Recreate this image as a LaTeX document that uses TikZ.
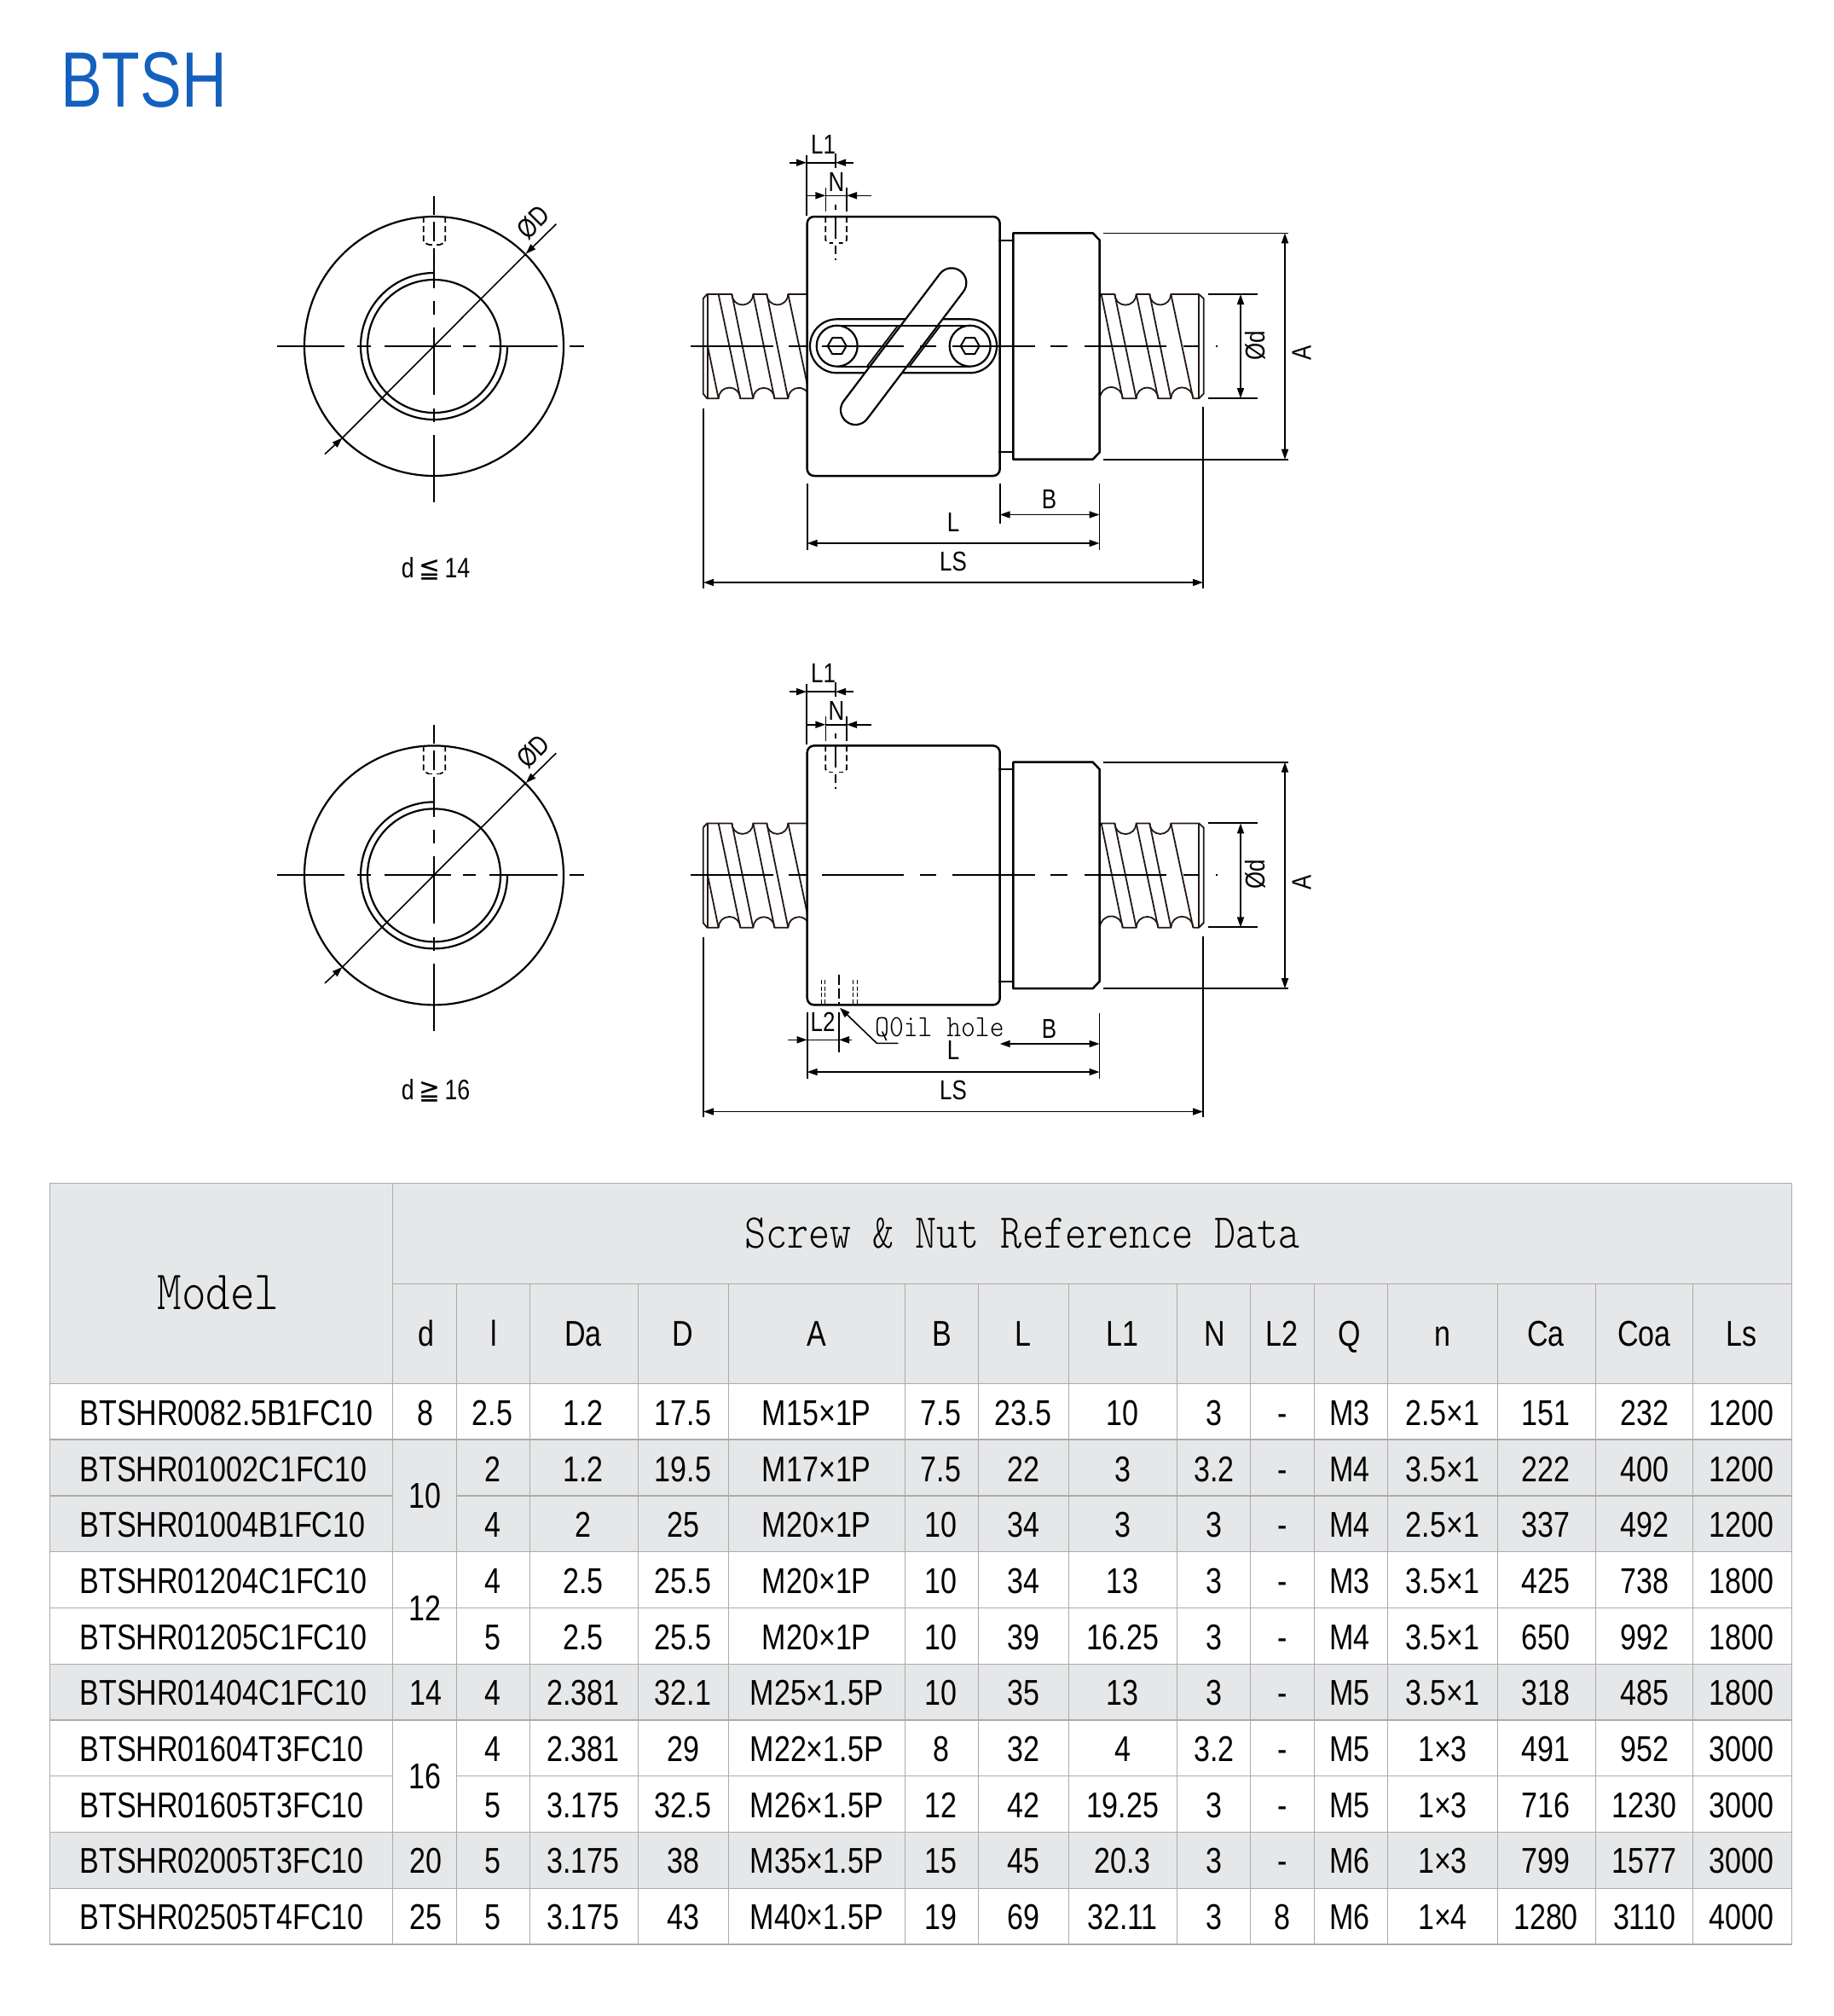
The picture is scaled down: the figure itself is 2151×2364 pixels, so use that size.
\documentclass[tikz,border=0pt]{standalone}
\usepackage{fontspec}
\usetikzlibrary{arrows.meta}
\setmainfont{Liberation Sans}
\newfontfamily\nar[FakeStretch=0.81]{Liberation Sans}
\newfontfamily\titlef[FakeStretch=0.795]{Liberation Sans}
\newfontfamily\monof[FakeStretch=0.838]{Latin Modern Mono Light}
\newfontfamily\monoq[FakeStretch=0.89]{Latin Modern Mono Light}
\newfontfamily\djv[FakeStretch=0.9]{DejaVu Sans}
\definecolor{tgray}{HTML}{E6E7E8}
\definecolor{tline}{HTML}{ABABAB}
\definecolor{titleblue}{HTML}{1460BE}
\definecolor{thr}{HTML}{231815}
\tikzset{
  body/.style={line width=2.5pt,black,line join=round},
  thread/.style={line width=1.8pt,thr,line join=round},
  thin dim/.style={line width=1.6pt,black},
  center line/.style={line width=2pt,black},
  dash hole/.style={line width=1.7pt,black,dash pattern=on 7pt off 4pt},
  both/.style={thin dim,{Triangle[length=12pt,width=8pt]}-{Triangle[length=12pt,width=8pt]}},
  oneway/.style={thin dim,-{Triangle[length=12pt,width=8pt]}},
  lab/.style={inner sep=0pt,font=\nar\fontsize{32}{32}\selectfont},
  cellt/.style={inner sep=0pt,anchor=base,font=\nar\fontsize{42}{42}\selectfont},
  hl/.style={line width=1.3pt,tline},
  vl/.style={line width=1pt,tline}
}
\newcommand\thlines{
  % left thread
  \begin{scope}[shift={(810,330)},x=0.33333pt,y=-0.33333pt]
    \draw[thread] (44,60)--(58,45)--(145,45) arc[start angle=180,end angle=360,radius=12.5pt]
      --(268,45) arc[start angle=180,end angle=360,radius=12.5pt]--(410,45);
    \draw[thread] (44,60)--(44,395)--(58,412)--(98,412) arc[start angle=180,end angle=0,radius=12.8pt]
      --(220,412) arc[start angle=180,end angle=0,radius=12.5pt]
      --(343,412) arc[start angle=180,end angle=37,radius=12.5pt];
    \draw[thread] (60,45)--(60,412);
    \draw[thread] (60,228)--(98,412);
    \draw[thread] (98,45)--(175,412);
    \draw[thread] (145,45)--(220,412);
    \draw[thread] (220,45)--(295,412);
    \draw[thread] (268,45)--(343,412);
    \draw[thread] (343,45)--(410,360);
  \end{scope}
  % right thread
  \begin{scope}[shift={(1280,330)},x=0.33333pt,y=-0.33333pt]
    \draw[thread] (30,45)--(82,45) arc[start angle=180,end angle=360,radius=12.67pt]
      --(205,45) arc[start angle=180,end angle=360,radius=12.5pt]
      --(378,45)--(395,60)--(395,395)--(378,412)--(358,412);
    \draw[thread] (30,412) arc[start angle=180,end angle=0,radius=13.33pt]
      --(158,412) arc[start angle=180,end angle=0,radius=12.83pt]
      --(280,412) arc[start angle=180,end angle=0,radius=13pt];
    \draw[thread] (378,45)--(378,412);
    \draw[thread] (35,45)--(110,412);
    \draw[thread] (82,45)--(158,412);
    \draw[thread] (158,45)--(235,412);
    \draw[thread] (205,45)--(280,412);
    \draw[thread] (280,45)--(358,412);
  \end{scope}
}
\newcommand\nutbody{
  \draw[body,rounded corners=8pt] (946.7,254) rectangle (1172.7,558);
  \draw[body] (1188.3,273.3)--(1281.7,273.3)--(1289.7,281.7)--(1289.7,530.3)--(1281.7,538.7)--(1188.3,538.7)--cycle;
  \draw[thin dim,line width=1.8pt] (1171,281.7)--(1188.3,281.7) (1171,530.3)--(1188.3,530.3);
}
\newcommand\axisline{
  \draw[center line] (810,406)--(907,406) (925,406)--(947,406) (964,406)--(1060,406) (1079,406)--(1098,406)
    (1117,406)--(1213.5,406) (1232.4,406)--(1252,406) (1272,406)--(1368,406) (1388,406)--(1407,406) (1426.3,406)--(1428,406);
}
\newcommand\commondims[1]{
  % L1
  \draw[thin dim] (946,181.7)--(946,252.7);
  \draw[thin dim] (980,180)--(980,196.7);
  \draw[thin dim] (946,190.7)--(980,190.7);
  \draw[oneway] (925.7,190.7)--(946,190.7);
  \draw[oneway] (1001,190.7)--(980,190.7);
  \node[lab] (#1L1) at (965.5,169) {L1};
  % N
  \draw[thin dim] (968.3,220)--(968.3,248.3) (993,220)--(993,248.3);
  \draw[thin dim] (968.3,229.3)--(993,229.3);
  \draw[oneway] (946,229.3)--(968.3,229.3);
  \draw[oneway] (1021.7,229.3)--(993,229.3);
  \node[lab] (#1N) at (981,213.5) {N};
  % threaded hole
  \draw[dash hole] (968.3,254)--(968.3,281.7)--(973.3,285) (993,254)--(993,281.7)--(988,285);
  \draw[line width=1.7pt] (973.3,285)--(977,285) (984,285)--(988,285);
  \draw[line width=1.7pt] (980,240)--(980,246) (980,255)--(980,280) (980,288)--(980,298) (980,303)--(980,304.5);
  % A
  \draw[thin dim] (1293.5,273.3)--(1510.7,273.3) (1293.5,538.7)--(1510.7,538.7);
  \draw[both] (1507,273.3)--(1507,538.7);
  \node[lab,rotate=90] (#1A) at (1526.5,414) {A};
  % d
  \draw[thin dim,line width=2pt] (1417,345)--(1475,345) (1417,467)--(1475,467);
  \draw[both] (1455,345)--(1455,467);
  \node[lab,rotate=90] (#1d) at (1472,405) {Ød};
}
\newcommand\frontview[2]{
  \draw[body,line width=2.2pt] (509,406) circle[radius=152pt];
  \draw[body,line width=2.2pt] (509,406) circle[radius=78pt];
  \draw[body,line width=2.2pt] (509,320) arc[start angle=90,end angle=360,radius=86pt];
  \draw[center line] (325,406)--(404,406) (419,406)--(435,406) (451,406)--(529,406) (543,406)--(558,406) (574,406)--(654,406) (668,406)--(685,406);
  \draw[center line,line width=1.8pt] (509,230)--(509,252) (509,260)--(509,283) (509,291)--(509,338) (509,353)--(509,369) (509,384)--(509,463) (509,479)--(509,495) (509,510)--(509,589);
  \draw[dash hole] (496.7,254)--(496.7,284)--(503,287) (522.3,254)--(522.3,284)--(516,287);
  \draw[line width=1.7pt] (503,287)--(506.5,287) (511.5,287)--(516,287);
  \draw[thin dim] (401.5,513.5)--(616.7,297.7);
  \draw[oneway] (652.3,262.7)--(616.7,297.7);
  \draw[oneway] (381,532.5)--(401.5,513.5);
  \node[lab,rotate=45] (#1D) at (625.5,260.5) {ØD};
  \node[inner sep=0pt,font=\nar\fontsize{33}{33}\selectfont] (#1cap) at (511,#2) {d{\djv\,\ifx#1u≦\else≧\fi\,}\ifx#1u14\else16\fi};
}
\begin{document}
\begin{tikzpicture}[x=1pt,y=-1pt]
\useasboundingbox (0,0) rectangle (2151,2364);
\fill[white] (0,0) rectangle (2151,2364);
\node[inner sep=0pt,anchor=base west,text=titleblue,font=\titlef\fontsize{92}{92}\selectfont] (title) at (71,125.5) {BTSH};

% ----- upper drawing
\thlines
\nutbody
\draw[body,line width=2.2pt,rounded corners=31.4pt] (950,374.3) rectangle (1169,437.3);
\begin{scope}[shift={(1116,331.7)},rotate=232.9]
  \draw[body,line width=2.2pt,fill=white,rounded corners=17.2pt] (-17.3pt,-17.3pt) rectangle (204.1pt,17.3pt);
\end{scope}
\draw[body,line width=2.2pt] (981.7,381.7)--(1137.7,381.7) (981.7,429.7)--(1137.7,429.7);
\draw[body,line width=1.8pt] (1053.2,381.7)--(1017.4,429) (1103,381.7)--(1067.2,429);
\draw[body,line width=2.2pt] (981.7,405.7) circle[radius=24pt] (1137.7,405.7) circle[radius=24pt];
\foreach \cx in {981.7,1137.7}{
  \draw[body,line width=2pt] (\cx-11,405.7)--(\cx-5.5,396.2)--(\cx+5.5,396.2)--(\cx+11,405.7)--(\cx+5.5,415.2)--(\cx-5.5,415.2)--cycle;
}
\axisline
\commondims{u}
\draw[thin dim] (946.7,567)--(946.7,644.5) (1172.7,567)--(1172.7,614) (1289.5,567)--(1289.5,644.5);
\draw[both] (1172.7,603.5)--(1289.5,603.5);
\draw[both] (946.7,637)--(1289.5,637);
\draw[thin dim] (825,479)--(825,690) (1411,477)--(1411,690);
\draw[both] (825,683)--(1411,683);
\node[lab] (uB) at (1230.5,585) {B};
\node[lab] (uL) at (1118,612) {L};
\node[lab] (uLS) at (1118,658) {LS};
\frontview{u}{667}

% ----- lower drawing
\begin{scope}[shift={(0,620.4)}]
\thlines
\nutbody
\axisline
\commondims{v}
\end{scope}
\begin{scope}[shift={(0,620.4)}]
\frontview{v}{658.6}
\end{scope}
\draw[line width=1.4pt,dash pattern=on 5pt off 2.5pt] (963.3,1149)--(963.3,1177) (967.7,1149)--(967.7,1177) (1000.7,1149)--(1000.7,1177) (1005.3,1149)--(1005.3,1177);
\draw[line width=1.8pt,dash pattern=on 12pt off 4pt] (984,1142.7)--(984,1177);
\draw[oneway] (1053.3,1223.3)--(1028.3,1223.3)--(985,1181.7);
\node[inner sep=0pt,anchor=base west,font=\monoq\fontsize{36}{36}\selectfont] (oil) at (1026,1215.5) {Q0il hole};
\draw[thin dim] (946.7,1187)--(946.7,1265) (984,1187)--(984,1234) (1289.5,1188.4)--(1289.5,1265);
\draw[thin dim] (946.7,1219.3)--(984,1219.3);
\draw[oneway] (924,1219.3)--(946.7,1219.3);
\draw[oneway] (998.5,1219.3)--(984,1219.3);
\node[lab] (vL2) at (965,1198) {L2};
\draw[both] (1172.7,1224)--(1289.5,1224);
\draw[both] (946.7,1257)--(1289.5,1257);
\draw[thin dim] (825,1099)--(825,1310) (1411,1098)--(1411,1310);
\draw[both] (825,1303.5)--(1411,1303.5);
\node[lab] (vB) at (1230.5,1206) {B};
\node[lab] (vL) at (1118,1231) {L};
\node[lab] (vLS) at (1118,1278) {LS};

% ----- table
\fill[tgray] (58.3,1387.3) rectangle (2101.6,1622.3);
\foreach \k in {2,3,6,9}{
  \fill[tgray] (58.3,{1622.3+65.77*(\k-1)}) rectangle (2101.6,{1622.3+65.77*\k});
}
\draw[hl] (58.3,1387.3) rectangle (2101.6,2280);
\draw[hl] (460.6,1505.3)--(2101.6,1505.3);
\draw[hl] (58.3,1622.3)--(2101.6,1622.3);
\foreach \k in {1,3,4,5,6,8,9}{
  \draw[hl] (58.3,{1622.3+65.77*\k})--(2101.6,{1622.3+65.77*\k});
}
\foreach \k in {2,4,7}{
  \draw[hl] (58.3,{1622.3+65.77*\k})--(460.6,{1622.3+65.77*\k});
  \draw[hl] (535.6,{1622.3+65.77*\k})--(2101.6,{1622.3+65.77*\k});
}
\draw[vl,line width=1.3pt] (460.6,1387.3)--(460.6,2280);
\foreach \xx in {535.6,621.5,748.6,854.7,1061,1147,1253.3,1380,1466.5,1541,1627.5,1756.4,1871.6,1985.7}{
  \draw[vl] (\xx,1505.3)--(\xx,2280);
}
\node[inner sep=0pt,anchor=base,font=\monof\fontsize{65}{65}\selectfont] (model) at (256,1535) {Model};
\node[inner sep=0pt,anchor=base,font=\monof\fontsize{57}{57}\selectfont] (screw) at (1199,1463) {Screw \& Nut Reference Data};
\foreach \t [count=\i from 0] in {d,l,Da,D,A,B,L,L1,N,L2,Q,n,Ca,Coa,Ls}{
  \pgfmathsetmacro\cx{{499.5,579.5,684,801,957.8,1104.5,1200.2,1316.6,1425,1503.7,1583,1692,1813,1928.6,2042.5}[\i]}
  \node[cellt] (h\i) at (\cx,1578) {\t};
}
\foreach \r/\m/\v in {
  1/BTSHR0082.5B1FC10/{8,2.5,1.2,17.5,M15×1P,7.5,23.5,10,3,-,M3,2.5×1,151,232,1200},
  2/BTSHR01002C1FC10/{,2,1.2,19.5,M17×1P,7.5,22,3,3.2,-,M4,3.5×1,222,400,1200},
  3/BTSHR01004B1FC10/{,4,2,25,M20×1P,10,34,3,3,-,M4,2.5×1,337,492,1200},
  4/BTSHR01204C1FC10/{,4,2.5,25.5,M20×1P,10,34,13,3,-,M3,3.5×1,425,738,1800},
  5/BTSHR01205C1FC10/{,5,2.5,25.5,M20×1P,10,39,16.25,3,-,M4,3.5×1,650,992,1800},
  6/BTSHR01404C1FC10/{14,4,2.381,32.1,M25×1.5P,10,35,13,3,-,M5,3.5×1,318,485,1800},
  7/BTSHR01604T3FC10/{,4,2.381,29,M22×1.5P,8,32,4,3.2,-,M5,1×3,491,952,3000},
  8/BTSHR01605T3FC10/{,5,3.175,32.5,M26×1.5P,12,42,19.25,3,-,M5,1×3,716,1230,3000},
  9/BTSHR02005T3FC10/{20,5,3.175,38,M35×1.5P,15,45,20.3,3,-,M6,1×3,799,1577,3000},
  10/BTSHR02505T4FC10/{25,5,3.175,43,M40×1.5P,19,69,32.11,3,8,M6,1×4,1280,3110,4000}}{
  \pgfmathsetmacro\by{1622.3+65.77*(\r-0.5)+16.5-0.12*\r}
  \node[cellt,anchor=base west] (m\r) at (93.5,\by) {\m};
  \foreach \t [count=\i from 0] in \v {
    \pgfmathsetmacro\cx{{499,577.5,684,801,957.8,1103.5,1200,1316.6,1424,1503.7,1583,1692,1813,1928.6,2042.5}[\i]}
    \node[cellt] (c\r-\i) at (\cx,\by) {\t};
  }
}
\node[cellt] (d10) at (498.5,{1622.3+65.77*2+15}) {10};
\node[cellt] (d12) at (498.5,{1622.3+65.77*4+15}) {12};
\node[cellt] (d16) at (498.5,{1622.3+65.77*7+15}) {16};
\end{tikzpicture}
\end{document}
